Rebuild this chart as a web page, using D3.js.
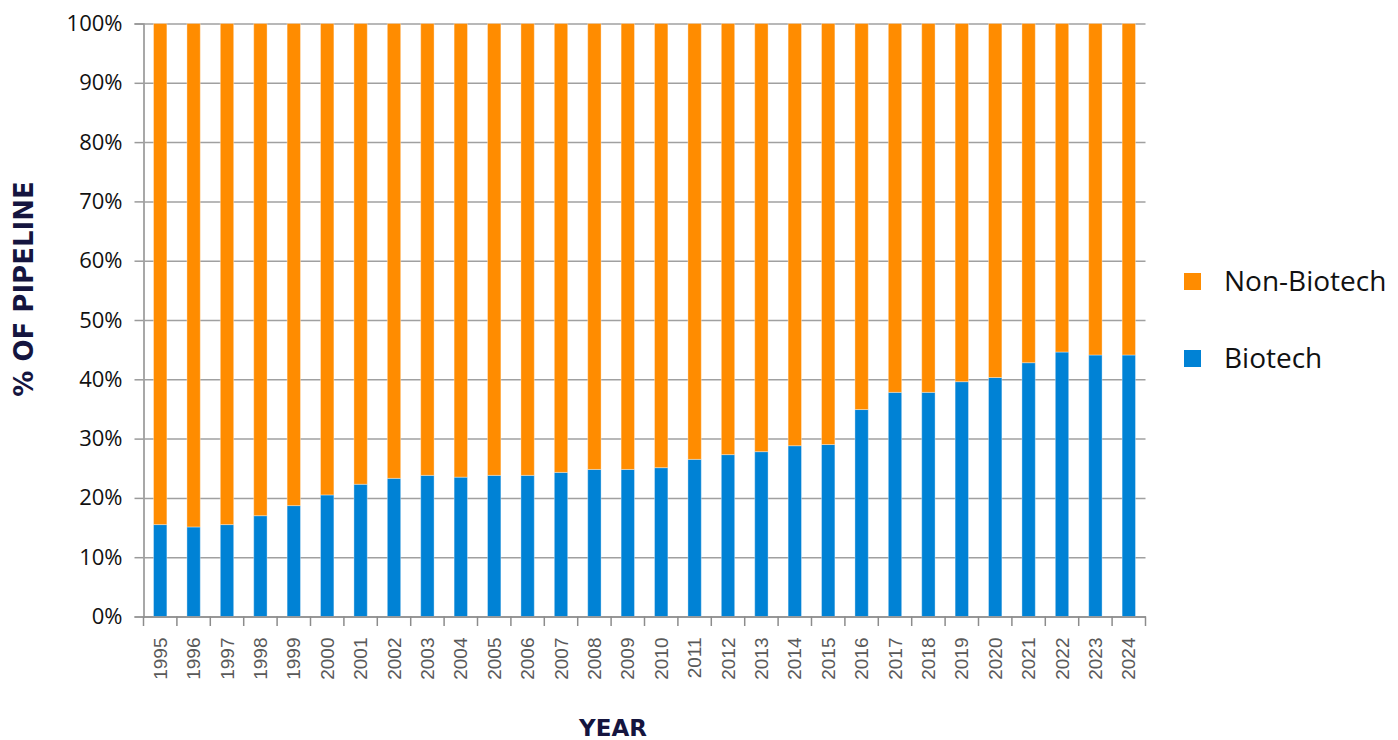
<!DOCTYPE html>
<html>
<head>
<meta charset="utf-8">
<script src="https://cdn.jsdelivr.net/npm/d3@7"></script>
<style>
  body { margin: 0; background: #fff; }
  svg { display: block; }
</style>
</head>
<body>
<div id="chart"></div>
<script>
// data
var years = ["1995","1996","1997","1998","1999","2000","2001","2002","2003","2004",
             "2005","2006","2007","2008","2009","2010","2011","2012","2013","2014",
             "2015","2016","2017","2018","2019","2020","2021","2022","2023","2024"];
var biotech = [15.5,15.1,15.5,17.0,18.7,20.5,22.3,23.3,23.8,23.5,
               23.8,23.8,24.3,24.8,24.8,25.1,26.5,27.3,27.8,28.8,
               29.0,34.9,37.8,37.8,39.6,40.3,42.8,44.6,44.1,44.1];
var nonBiotech = biotech.map(function(b){ return 100 - b; });
var seriesNames = ["Biotech", "Non-Biotech"];
var yTicks = [0,10,20,30,40,50,60,70,80,90,100];

var width = 1398, height = 740;
var colors = {"Biotech": "#0082D5", "Non-Biotech": "#FF8C00"};

var svg = d3.select("#chart").append("svg")
            .attr("width", width)
            .attr("height", height);

var x = d3.scaleBand()
          .domain(years)
          .range([143.5, 1145.5])
          .paddingInner(0.6)
          .paddingOuter(0.3);

var y = d3.scaleLinear()
          .domain([0, 100])
          .range([616.5, 23.5]);

// gridlines + y ticks
svg.append("g")
   .attr("transform", "translate(143.5,0)")
   .call(d3.axisLeft(y).tickValues(yTicks).tickSize(9).tickFormat(function(d){ return d + "%"; }))
   .call(function(g){
     g.select(".domain").attr("stroke", "#8c8c8c").attr("stroke-width", 1.5);
     g.selectAll(".tick line").attr("stroke", "#9a9a9a").attr("stroke-width", 1.5);
     g.selectAll(".tick").append("line")
      .attr("x1", 0).attr("x2", 1145.5 - 143.5)
      .attr("stroke", "#a0a0a0").attr("stroke-width", 1.5);
     g.selectAll(".tick text")
      .attr("x", -21)
      .attr("fill", "#111")
      .style("font-family", "'Open Sans', Lato, sans-serif")
      .style("font-size", "22px");
   });

// stacked data
var rows = years.map(function(yr, i){
  return {year: yr, "Biotech": biotech[i], "Non-Biotech": nonBiotech[i]};
});
var stack = d3.stack().keys(seriesNames)(rows);

svg.append("g").selectAll("g")
   .data(stack)
   .join("g")
   .attr("fill", function(d){ return colors[d.key]; })
   .selectAll("rect")
   .data(function(d){ return d; })
   .join("rect")
   .attr("x", function(d){ return x(d.data.year); })
   .attr("y", function(d){ return y(d[1]); })
   .attr("width", x.bandwidth())
   .attr("height", function(d){ return y(d[0]) - y(d[1]); })
   .attr("stroke", "rgba(255,255,255,0.35)")
   .attr("stroke-width", 1);

// x axis
var step = x.step();
svg.append("g")
   .attr("transform", "translate(0,616.5)")
   .call(d3.axisBottom(x).tickSize(0))
   .call(function(g){
     g.select(".domain").attr("stroke", "#8c8c8c").attr("stroke-width", 1.5);
     g.selectAll(".tick text")
      .attr("transform", "rotate(-90)")
      .attr("x", -21)
      .attr("y", 0)
      .attr("dy", "0.35em")
      .style("text-anchor", "end")
      .attr("fill", "#595959")
      .style("font-family", "'Liberation Sans', Arial, sans-serif")
      .style("font-size", "19px");
   });

// x tick marks at category boundaries
var bounds = d3.range(years.length + 1).map(function(i){ return 143.5 + i * step; });
svg.append("g").selectAll("line")
   .data(bounds)
   .join("line")
   .attr("x1", function(d){ return d; })
   .attr("x2", function(d){ return d; })
   .attr("y1", 616.5)
   .attr("y2", 626)
   .attr("stroke", "#8c8c8c")
   .attr("stroke-width", 1.5);

// axis titles
svg.append("text")
   .attr("transform", "translate(33,289) rotate(-90)")
   .attr("text-anchor", "middle")
   .attr("fill", "#15153f")
   .style("font-family", "'DejaVu Sans', sans-serif")
   .style("font-weight", "900")
   .style("font-size", "26px")
   .text("% OF PIPELINE");

svg.append("text")
   .attr("x", 613)
   .attr("y", 736)
   .attr("text-anchor", "middle")
   .attr("fill", "#15153f")
   .style("font-family", "'DejaVu Sans', sans-serif")
   .style("font-weight", "900")
   .style("font-size", "23px")
   .text("YEAR");

// legend
var legendItems = ["Non-Biotech", "Biotech"];
var legend = svg.append("g").selectAll("g")
   .data(legendItems)
   .join("g")
   .attr("transform", function(d, i){ return "translate(1184," + (273 + i * 77) + ")"; });

legend.append("rect")
   .attr("width", 17)
   .attr("height", 17)
   .attr("fill", function(d){ return colors[d]; });

legend.append("text")
   .attr("x", 40)
   .attr("y", 8.5)
   .attr("dy", "0.35em")
   .attr("fill", "#111")
   .style("font-family", "'Open Sans', Lato, sans-serif")
   .style("font-size", "28px")
   .text(function(d){ return d; });
</script>
</body>
</html>
